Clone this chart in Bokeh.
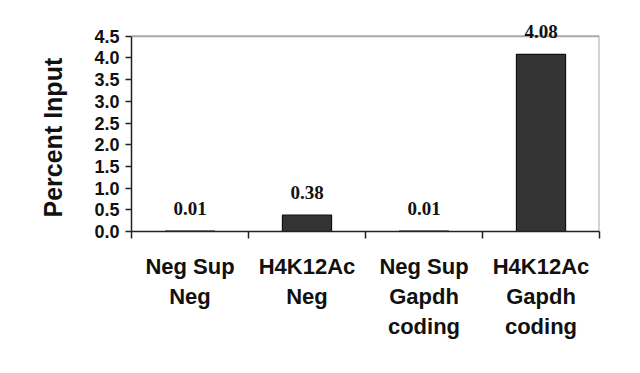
import numpy as np
from bokeh.plotting import figure
from bokeh.models import ColumnDataSource, FixedTicker, Range1d, LabelSet, Title
from bokeh.embed import file_html
from bokeh.resources import INLINE

categories = ["Neg Sup\nNeg", "H4K12Ac\nNeg", "Neg Sup\nGapdh\ncoding", "H4K12Ac\nGapdh\ncoding"]
values = [0.01, 0.38, 0.01, 4.08]
labels = ["0.01", "0.38", "0.01", "4.08"]
y_ticks = [0.0, 0.5, 1.0, 1.5, 2.0, 2.5, 3.0, 3.5, 4.0, 4.5]

n = len(categories)
y_max = y_ticks[-1]
xc = list(np.arange(n) + 0.5)
src = ColumnDataSource(dict(x=xc, top=values, lab=labels))

p = figure(width=624, height=357, output_backend="svg", toolbar_location=None,
           x_range=Range1d(0, n), y_range=Range1d(0, 5.0),
           min_border_left=131, min_border_right=25, min_border_top=14, min_border_bottom=126)

# light grey plot-area frame (top and right edges)
p.segment(x0=[0, n], y0=[y_max, 0], x1=[n, n], y1=[y_max, y_max], line_color="#a8a8a8", line_width=2)

p.vbar(x="x", top="top", width=0.42, source=src, fill_color="#333333", line_color="#111111", line_width=1.2)
ls = LabelSet(x="x", y="top", text="lab", source=src, text_align="center", text_baseline="middle",
              y_offset=23, text_font="Liberation Serif", text_font_style="bold",
              text_font_size="19px", text_color="#111111")
p.add_layout(ls)

p.xgrid.visible = False
p.ygrid.visible = False
p.outline_line_color = None
p.background_fill_color = "white"
p.border_fill_color = "white"

xa = p.xaxis[0]
xa.ticker = FixedTicker(ticks=xc, minor_ticks=list(range(n + 1)))
xa.major_label_overrides = {float(x): c for x, c in zip(xc, categories)}
xa.major_tick_out = 0
xa.major_tick_in = 0
xa.minor_tick_out = 7
xa.minor_tick_in = 0
xa.minor_tick_line_color = "#222222"
xa.minor_tick_line_width = 1.5
xa.axis_line_color = "#222222"
xa.axis_line_width = 1.5
xa.major_label_text_font = "Liberation Sans"
xa.major_label_text_font_style = "bold"
xa.major_label_text_font_size = "22px"
xa.major_label_text_color = "#111111"
xa.major_label_standoff = 15

ya = p.yaxis[0]
ya.bounds = (0, y_max)
ya.ticker = FixedTicker(ticks=y_ticks)
ya.major_label_overrides = {t: f"{t:.1f}" for t in y_ticks}
ya.major_tick_out = 6
ya.major_tick_in = 0
ya.minor_tick_out = 0
ya.minor_tick_in = 0
ya.major_tick_line_color = "#222222"
ya.major_tick_line_width = 1.5
ya.axis_line_color = "#222222"
ya.axis_line_width = 1.5
ya.major_label_text_font = "Liberation Sans"
ya.major_label_text_font_style = "bold"
ya.major_label_text_font_size = "18px"
ya.major_label_text_color = "#111111"
ya.major_label_standoff = 6

ytitle = Title(text="Percent Input", align="left", offset=14, standoff=50,
               text_font="Liberation Sans", text_font_style="bold",
               text_font_size="25px", text_color="#111111")
p.add_layout(ytitle, "left")

open("out.html", "w").write(file_html(p, INLINE))
